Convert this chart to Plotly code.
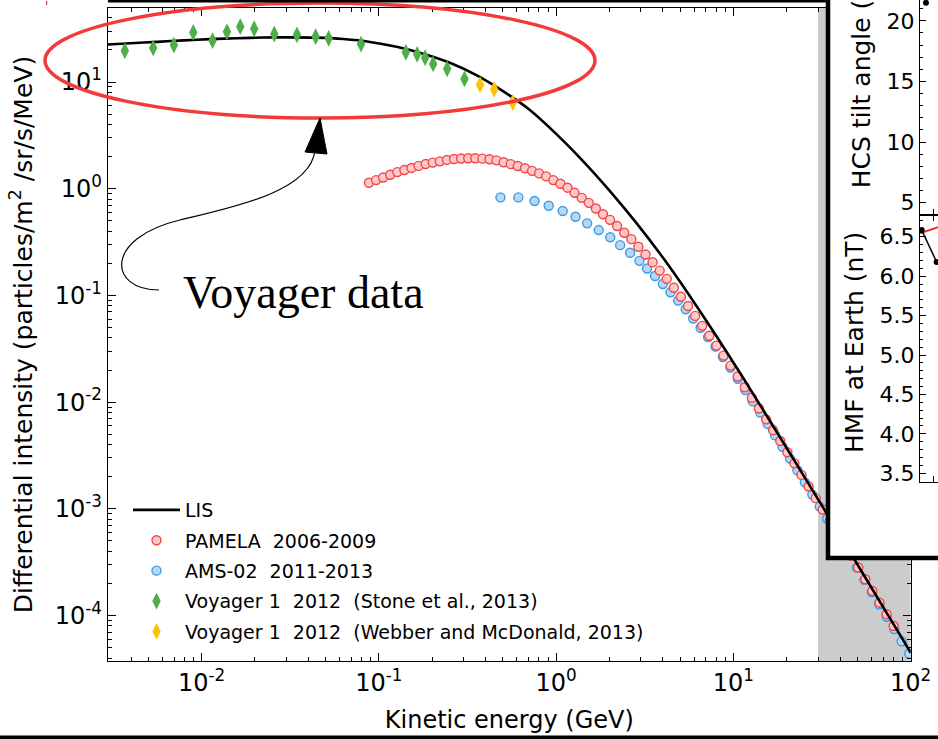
import plotly.graph_objects as go

# ---------------- data ----------------
lis_E = [0.002818, 0.003981, 0.005623, 0.007943, 0.01122, 0.01585, 0.02239, 0.03162, 0.04467,
         0.06310, 0.08913, 0.1259, 0.1778, 0.2512, 0.3548, 0.5012, 0.7079, 1.0, 1.413, 1.995,
         2.818, 3.981, 5.623, 7.943, 11.22, 15.85, 22.39, 31.62, 44.67, 63.10, 89.13, 100.0]
lis_J = [22.39, 23.07, 23.82, 24.60, 25.23, 25.76, 26.12, 26.24, 26.06,
         25.29, 23.77, 21.38, 18.41, 15.14, 11.61, 8.22, 5.50, 3.27, 1.828, 0.966,
         0.484, 0.229, 0.1012, 0.04266, 0.01738, 0.006918, 0.002723, 0.001067, 0.000412,
         0.0001592, 0.0000617, 0.0000447]

pam_E = [0.0879, 0.0964, 0.1057, 0.1159, 0.1271, 0.1393, 0.1528, 0.1675, 0.1837, 0.2014,
         0.2208, 0.2421, 0.2655, 0.2911, 0.3192, 0.3499, 0.3837, 0.4207, 0.4613, 0.5058,
         0.5546, 0.6081, 0.6668, 0.7311, 0.8017, 0.879, 0.964, 1.057, 1.159, 1.271,
         1.393, 1.528, 1.675, 1.837, 2.014, 2.208, 2.421, 2.655, 2.911, 3.192,
         3.499, 3.837, 4.207, 4.613, 5.058, 5.546, 6.081, 6.668, 7.311, 8.017,
         8.79, 9.64, 10.57, 11.59, 12.71, 13.93, 15.28, 16.75, 18.37, 20.14,
         22.08, 24.21, 26.55, 29.11, 31.92, 34.99, 38.37, 42.07, 46.13, 50.58,
         55.46, 60.81, 66.68, 73.11, 80.17]
pam_J = [1.138, 1.205, 1.276, 1.352, 1.432, 1.500, 1.567, 1.637, 1.706, 1.758,
         1.807, 1.862, 1.901, 1.919, 1.932, 1.932, 1.914, 1.888, 1.845, 1.770,
         1.702, 1.633, 1.556, 1.472, 1.393, 1.306, 1.205, 1.114, 1.023, 0.916,
         0.822, 0.738, 0.653, 0.577, 0.511, 0.447, 0.387, 0.337, 0.286, 0.242,
         0.205, 0.171, 0.143, 0.118, 0.0973, 0.0796, 0.0643, 0.0519, 0.0419, 0.0339,
         0.0273, 0.0220, 0.0174, 0.0138, 0.01096, 0.00871, 0.00690, 0.00546, 0.00432, 0.00339,
         0.00267, 0.00208, 0.00162, 0.00126, 0.000986, 0.000769, 0.000600, 0.000468, 0.000364, 0.000282,
         0.000219, 0.000170, 0.000132, 0.000103, 0.0000798]

ams_E = [0.485, 0.612, 0.755, 0.908, 1.089, 1.285, 1.496, 1.738, 2.018, 2.296,
         2.612, 2.951, 3.258, 3.614, 4.000, 4.416, 4.875, 5.383, 5.929, 6.531,
         7.194, 7.925, 8.730, 9.616, 10.59, 11.67, 12.85, 14.16, 15.60, 17.18,
         18.92, 20.84, 22.96, 25.29, 27.86, 30.69, 33.81, 37.24, 41.02, 45.19,
         49.77, 54.83, 60.39, 66.53, 73.28, 80.72, 88.92, 97.95]
ams_J = [0.830, 0.830, 0.767, 0.693, 0.618, 0.547, 0.474, 0.410, 0.351, 0.296,
         0.251, 0.211, 0.179, 0.152, 0.128, 0.107, 0.0895, 0.0743, 0.0608, 0.0498,
         0.0407, 0.0332, 0.0265, 0.0211, 0.01656, 0.01297, 0.01016, 0.00798, 0.00625, 0.00489,
         0.00381, 0.00296, 0.00230, 0.00177, 0.00136, 0.00105, 0.000807, 0.000621, 0.000479, 0.000368,
         0.000282, 0.000216, 0.000166, 0.000127, 0.0000975, 0.0000746, 0.0000573, 0.0000440]

stone_E = [0.00369, 0.00533, 0.00698, 0.00897, 0.01153, 0.0139, 0.01652, 0.0198, 0.0257, 0.0345,
           0.0440, 0.0521, 0.0793, 0.1419, 0.1644, 0.1824, 0.2023, 0.2427, 0.304]
stone_J = [19.6, 20.9, 22.2, 29.2, 24.4, 29.6, 33.0, 31.6, 28.2, 27.7,
           26.6, 25.7, 22.7, 19.0, 18.2, 16.9, 14.8, 13.3, 10.7]
webber_E = [0.372, 0.447, 0.569]
webber_J = [9.43, 8.55, 6.43]

# inset panels (partially visible)
tilt_t = [2005.46]
tilt_v = [21.49]
hmf_t_black = [2005.13, 2006.28]
hmf_black = [6.585, 6.18]
hmf_t_red = [2005.0, 2006.385]
hmf_red = [6.545, 6.62]

x_tickvals = [0.01, 0.1, 1, 10, 100]
x_ticktext = ["10<sup>-2</sup>", "10<sup>-1</sup>", "10<sup>0</sup>", "10<sup>1</sup>", "10<sup>2</sup>"]
y_tickvals = [1e-4, 1e-3, 1e-2, 1e-1, 1, 10]
y_ticktext = ["10<sup>-4</sup>", "10<sup>-3</sup>", "10<sup>-2</sup>", "10<sup>-1</sup>",
              "10<sup>0</sup>", "10<sup>1</sup>"]
tilt_ticks = [5, 10, 15, 20]
hmf_ticks = [3.5, 4.0, 4.5, 5.0, 5.5, 6.0, 6.5]

# ---------------- geometry helpers ----------------
W, H = 938, 739
def px(x):
    return x / W
def py(y):
    return 1 - y / H
def P(x, y):
    return f"{px(x):.5f},{py(y):.5f}"

FONT = "DejaVu Sans"
NB = "\u00a0 "

fig = go.Figure()
fig.add_trace(go.Scatter(
    x=ams_E, y=ams_J, mode="markers", name="AMS-02" + NB + "2011-2013",
    legendrank=3, legendgroup="g3",
    marker=dict(symbol="circle", size=9, color="#b5d8f5", line=dict(color="#3d9be9", width=1.4))))
fig.add_trace(go.Scatter(
    x=pam_E, y=pam_J, mode="markers", name="PAMELA" + NB + "2006-2009",
    legendrank=2, legendgroup="g2",
    marker=dict(symbol="circle", size=9, color="#ffc9c9", line=dict(color="#f04848", width=1.4))))
fig.add_trace(go.Scatter(
    x=lis_E, y=lis_J, mode="lines", name="LIS", legendrank=1, legendgroup="g1",
    line=dict(color="black", width=2.6, shape="spline", smoothing=0.6)))
fig.add_trace(go.Scatter(
    x=stone_E, y=stone_J, mode="markers",
    name="Voyager 1" + NB + "2012" + NB + "(Stone et al., 2013)", legendrank=4, legendgroup="g4",
    marker=dict(symbol="diamond-tall", size=12, color="#4dae4a", line=dict(width=0))))
fig.add_trace(go.Scatter(
    x=webber_E, y=webber_J, mode="markers",
    name="Voyager 1" + NB + "2012" + NB + "(Webber and McDonald, 2013)", legendrank=5, legendgroup="g5",
    marker=dict(symbol="diamond-tall", size=12, color="#ffc107", line=dict(width=0))))

# inset background subplot
fig.add_trace(go.Scatter(x=[0.5], y=[0.5], mode="markers", marker=dict(opacity=0),
                         xaxis="x2", yaxis="y2", showlegend=False, hoverinfo="skip"))
# inset tilt panel
fig.add_trace(go.Scatter(x=tilt_t, y=tilt_v, mode="markers", marker=dict(color="black", size=6),
                         xaxis="x3", yaxis="y3", showlegend=False))
# inset HMF panel
fig.add_trace(go.Scatter(x=hmf_t_red, y=hmf_red, mode="lines", line=dict(color="#f03030", width=2),
                         xaxis="x4", yaxis="y4", showlegend=False))
fig.add_trace(go.Scatter(x=hmf_t_black, y=hmf_black, mode="lines+markers",
                         line=dict(color="black", width=1.5), marker=dict(color="black", size=6),
                         xaxis="x4", yaxis="y4", showlegend=False))

axis_common = dict(showgrid=False, zeroline=False, showline=True, linecolor="black", linewidth=1.3,
                   ticks="inside", tickcolor="black", tickwidth=1.2, automargin=False)

fig.update_layout(
    width=W, height=H, margin=dict(l=0, r=0, t=0, b=0),
    paper_bgcolor="white", plot_bgcolor="white",
    font=dict(family=FONT, color="black"),
    showlegend=True,
    legend=dict(x=px(128), y=py(491), xanchor="left", yanchor="top",
                bgcolor="rgba(0,0,0,0)", borderwidth=0, itemwidth=47,
                tracegroupgap=2.7, traceorder="grouped",
                font=dict(family=FONT, size=19, color="black")),
    xaxis=dict(type="log", domain=[px(108), px(910.7)], range=[-2.528, 2.0], anchor="y",
               tickmode="array", tickvals=x_tickvals, ticktext=x_ticktext, ticklen=8,
               mirror="allticks", tickfont=dict(size=24),
               minor=dict(dtick="D1", ticks="inside", ticklen=4, tickcolor="black", tickwidth=1),
               title=dict(text="Kinetic energy (GeV)", font=dict(size=24)),
               **axis_common),
    yaxis=dict(type="log", domain=[py(661), py(8)], range=[-4.426, 1.694], anchor="x",
               tickmode="array", tickvals=y_tickvals, ticktext=y_ticktext, ticklen=8,
               mirror="allticks", tickfont=dict(size=24),
               minor=dict(dtick="D1", ticks="inside", ticklen=4, tickcolor="black", tickwidth=1),
               title=dict(text="Differential intensity (particles/m<sup>2</sup> /sr/s/MeV)",
                          font=dict(size=25)),
               **axis_common),
    xaxis2=dict(domain=[px(826), 1], anchor="y2", visible=False, range=[0, 1]),
    yaxis2=dict(domain=[py(560), 1], anchor="x2", visible=False, range=[0, 1]),
    xaxis3=dict(domain=[px(920), 1], anchor="y3", range=[2005.0, 2006.385],
                tickmode="array", tickvals=[2006], ticklen=6, showticklabels=False, **axis_common),
    yaxis3=dict(domain=[py(215), 1], anchor="x3", range=[3.98, 21.72],
                tickmode="array", tickvals=tilt_ticks, ticklen=6, tickfont=dict(size=22),
                minor=dict(dtick=1, ticks="inside", ticklen=3, tickcolor="black"),
                **axis_common),
    xaxis4=dict(domain=[px(920), 1], anchor="y4", range=[2005.0, 2006.385], mirror="allticks",
                tickmode="array", tickvals=[2006], ticklen=6, showticklabels=False, **axis_common),
    yaxis4=dict(domain=[py(481.7), py(215)], anchor="x4", range=[3.393, 6.776],
                tickmode="array", tickvals=hmf_ticks, tickformat=".1f", ticklen=6,
                tickfont=dict(size=22),
                minor=dict(dtick=0.1, ticks="inside", ticklen=3, tickcolor="black"),
                **axis_common),
)

shapes = [
    # shaded high-energy band
    dict(type="rect", xref="x", yref="y domain", x0=30, x1=100, y0=0, y1=1,
         fillcolor="#cccccc", line=dict(width=0), layer="below"),
    # highlight ellipse
    dict(type="circle", xref="paper", yref="paper", x0=px(45), x1=px(595), y0=py(118), y1=py(3),
         line=dict(color="#f23a3a", width=3.5), layer="above"),
    # curved arrow
    dict(type="path", xref="paper", yref="paper",
         path=f"M {P(159,290)} C {P(108,290)} {P(104,238)} {P(180,220)} "
              f"C {P(230,208)} {P(311,192)} {P(315,150)}",
         line=dict(color="black", width=1.2), layer="above"),
    dict(type="path", xref="paper", yref="paper",
         path=f"M {P(320,118)} L {P(305,152)} L {P(327,154)} Z",
         fillcolor="black", line=dict(color="black", width=1), layer="above"),
    # inset frame
    dict(type="rect", xref="paper", yref="paper", x0=px(828), x1=px(990), y0=py(558), y1=py(-40),
         line=dict(color="black", width=4.5), fillcolor="rgba(0,0,0,0)", layer="above"),
    # crop edges of the source picture
    dict(type="rect", xref="paper", yref="paper", x0=px(108), x1=px(828), y0=py(2.5), y1=py(-2),
         fillcolor="black", line=dict(width=0), layer="above"),
    dict(type="rect", xref="paper", yref="paper", x0=0, x1=1, y0=py(742), y1=py(735.5),
         fillcolor="black", line=dict(width=0), layer="above"),
    dict(type="line", xref="paper", yref="paper", x0=px(46.7), x1=px(46.7), y0=py(1), y1=py(5),
         line=dict(color="#f03030", width=1.2), layer="above"),
]
fig.update_layout(shapes=shapes)

fig.add_annotation(text="Voyager data", xref="paper", yref="paper", x=px(303), y=py(292),
                   xanchor="center", yanchor="middle",
                   showarrow=False, font=dict(family="Liberation Serif", size=46, color="black"))
fig.add_annotation(text="HCS tilt angle (degrees)", xref="paper", yref="paper",
                   x=px(861.7), y=py(190), xanchor="center", yanchor="bottom", textangle=-90,
                   showarrow=False, font=dict(family=FONT, size=25, color="black"))
fig.add_annotation(text="HMF at Earth (nT)", xref="paper", yref="paper",
                   x=px(854), y=py(343), xanchor="center", yanchor="middle", textangle=-90,
                   showarrow=False, font=dict(family=FONT, size=25, color="black"))

fig.write_html("out.html")
